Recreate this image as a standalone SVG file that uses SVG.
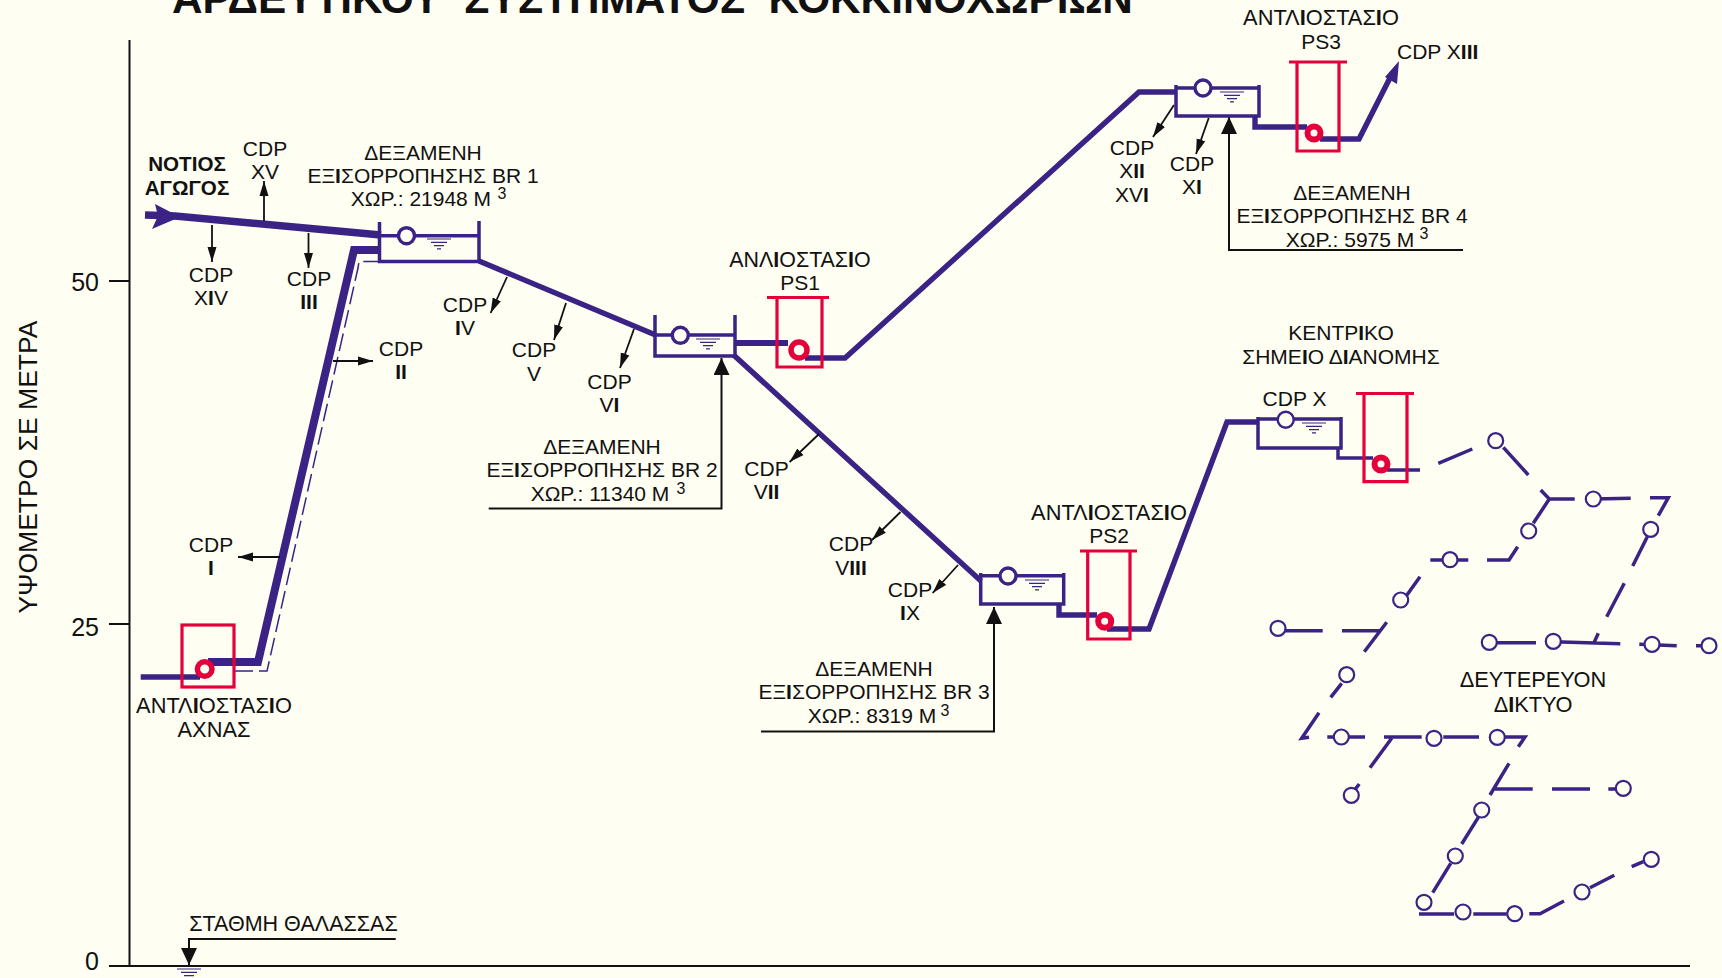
<svg xmlns="http://www.w3.org/2000/svg" width="1722" height="978" viewBox="0 0 1722 978">
<style>
text{font-family:"Liberation Sans",Arial,sans-serif;font-size:21px;fill:#111;text-anchor:middle}
tspan.i{font-weight:bold}
.l{font-size:21.8px}
.p{fill:none;stroke:#3b2385;stroke-width:3.5}
.m{fill:none;stroke:#3b2385;stroke-width:5.4}
.t{fill:none;stroke:#3b2385;stroke-width:8}
.n{fill:#fffef2;stroke:#3b2385;stroke-width:2.2}
.rc{fill:#fffef2;stroke:#3b2385;stroke-width:3.4}
.r{fill:none;stroke:#e4003a;stroke-width:3.2}
.o{fill:#fffef2;stroke:#e4003a;stroke-width:6}
.k{fill:none;stroke:#111;stroke-width:1.8}
.a{marker-end:url(#ah)}
.b{fill:none;stroke:#111;stroke-width:2;marker-end:url(#bh)}
.w{stroke:#3b2385;stroke-width:1.2}
.sup{font-size:16px}
</style>
<defs>
<marker id="ah" markerUnits="userSpaceOnUse" markerWidth="16" markerHeight="10" refX="15" refY="5" orient="auto"><path d="M0,0.5L15,5L0,9.5z" fill="#111"/></marker>
<marker id="bh" markerUnits="userSpaceOnUse" markerWidth="18" markerHeight="16" refX="17" refY="8" orient="auto"><path d="M0,0L17,8L0,16z" fill="#111"/></marker>
<g id="wl"><path class="w" d="M-12,0H12M-8,3.3H8M-5,6.6H5M-2,9.9H2"/></g>
</defs>
<rect width="1722" height="978" fill="#fffef2"/>
<g id="title"><text x="172" y="13" style="text-anchor:start;font-size:42.3px;font-weight:bold" xml:space="preserve">ΑΡΔΕΥΤΙΚΟΥ  ΣΥΣΤΗΜΑΤΟΣ  ΚΟΚΚΙΝΟΧΩΡΙΩΝ</text></g>
<g id="axes">
<path d="M129.5,40V966M109,966H1690M109,281H129.5M109,624H129.5" fill="none" stroke="#111" stroke-width="2"/>
<text x="99" y="291" style="text-anchor:end;font-size:25px">50</text>
<text x="99" y="636" style="text-anchor:end;font-size:25px">25</text>
<text x="99" y="970" style="text-anchor:end;font-size:25px">0</text>
<text transform="translate(37,467) rotate(-90)" style="font-size:26.5px">ΥΨΟΜΕΤΡΟ ΣΕ ΜΕΤΡΑ</text>
</g>
<g id="connectors">
<path class="t" d="M145,215L175,216L381,235" style="stroke-width:7.5"/>
<path d="M155,204L180,217L152,229L158,216z" fill="#3b2385"/>
<path class="t" d="M208,662H258L354,250H380"/>
<path fill="none" stroke="#3b2385" stroke-width="1.5" stroke-dasharray="18 6" d="M235,671H267L358,268L359,261.5H380"/>
<path class="m" d="M140.7,677H200"/>
<path class="m" d="M479,261L655.6,335M733.6,355L981,581"/>
<path class="m" style="stroke-width:6" d="M735,343H788"/>
<path class="m" d="M805,358H845L1139,92H1176"/>
<path class="m" d="M1255,117V127H1307"/>
<path class="m" d="M1320,139H1359L1393,72"/>
<path d="M1399,61L1385,77L1397,84z" fill="#3b2385"/>
<path class="m" d="M1059,604V615H1097"/>
<path class="m" d="M1107,629H1149L1227,422H1258"/>
<path class="p" d="M1338,448V458H1373M1386.7,470H1420"/>
<path class="p" d="M1438.3,463.3L1472.3,449M1503.3,447.3L1528.3,475M1540.7,490L1549.3,499H1574.7M1549.3,499L1533.3,523.3M1517.7,546.7L1509,560H1487M1468.3,560H1430.3M1420,576.7L1405.7,596.7M1386.7,622.3L1364.3,651.7M1379.3,630.7H1342M1322.7,630.7H1278M1593.3,499L1630.7,498.3M1650,497.7H1668.3L1658.3,515.7M1647.3,536.7L1632.7,566M1624.3,583.3L1606.7,616.7M1598.3,633.3L1594,642.7M1489.3,642.7H1536M1553.3,641.7L1620.3,643.7M1639.3,644.3L1676.7,645.7M1696,645.7H1709"/>
<path class="p" d="M1341.7,683.3L1330.7,697.3M1319,712.7L1301.7,738.3L1309,737.3M1327.3,737H1365M1384,737H1421.7M1391.7,738.3L1370,767.7M1443.3,737H1479M1505,737H1525L1518.3,746.7M1509,763.3L1490,795M1495,789H1532.7M1552,789H1590M1608.3,789H1623M1359.3,784L1355,789.3M1478.3,817.3L1461.7,844M1450.7,863.3L1432.7,892.7M1419,914H1454M1473.3,914H1506.7M1529.3,913.7H1540L1564,901M1590,887.7L1614.3,875.3M1631.7,866.7L1643.3,861.7"/>
<path class="k a" d="M264,221V181"/>
<path class="k a" d="M212,225V262"/>
<path class="k a" d="M308.5,233V268"/>
<path class="k a" d="M507,277L490.6,313"/>
<path class="k a" d="M566,303L554,340"/>
<path class="k a" d="M634,329L620,368"/>
<path class="k a" d="M333,361H373"/>
<path class="k a" d="M280,557H238"/>
<path class="k a" d="M819,434L789.6,462"/>
<path class="k a" d="M900.5,512L872,540"/>
<path class="k a" d="M958,565L932.7,593"/>
<path class="k a" d="M1174,105L1153,137"/>
<path class="k a" d="M1208.7,118L1196,154"/>
<path class="b" d="M1463,250H1229V117"/>
<path class="b" d="M488.7,508.5H721.5V358"/>
<path class="b" d="M761,731.4H994V607"/>
<path class="b" d="M395.7,939H189V965"/>
<use href="#wl" transform="translate(189,969)"/>
</g>
<g id="nout"><text x="187" y="171" style="font-weight:bold;font-size:20.6px">ΝΟΤΙΟΣ</text><text x="187" y="195" style="font-weight:bold;font-size:20.6px">ΑΓΩΓΟΣ</text></g>
<g id="cdp15"><text x="265" y="156">CDP</text><text x="265" y="179">XV</text></g>
<g id="cdp14"><text x="211" y="282">CDP</text><text x="211" y="305">X<tspan class="i">I</tspan>V</text></g>
<g id="cdp3"><text x="309" y="286">CDP</text><text x="309" y="309"><tspan class="i">III</tspan></text></g>
<g id="cdp4"><text x="465" y="312">CDP</text><text x="465" y="335"><tspan class="i">I</tspan>V</text></g>
<g id="cdp5"><text x="534" y="357">CDP</text><text x="534" y="381">V</text></g>
<g id="cdp6"><text x="609.5" y="389">CDP</text><text x="609.5" y="412">V<tspan class="i">I</tspan></text></g>
<g id="cdp2"><text x="401" y="356">CDP</text><text x="401" y="379"><tspan class="i">II</tspan></text></g>
<g id="cdp1"><text x="211" y="552">CDP</text><text x="211" y="575"><tspan class="i">I</tspan></text></g>
<g id="cdp7"><text x="766.5" y="476">CDP</text><text x="766.5" y="499">V<tspan class="i">II</tspan></text></g>
<g id="cdp8"><text x="851" y="551">CDP</text><text x="851" y="575">V<tspan class="i">III</tspan></text></g>
<g id="cdp9"><text x="910" y="597">CDP</text><text x="910" y="620"><tspan class="i">I</tspan>X</text></g>
<g id="cdp10"><text x="1294.5" y="406">CDP X</text></g>
<g id="cdp11"><text x="1192" y="171">CDP</text><text x="1192" y="194">X<tspan class="i">I</tspan></text></g>
<g id="cdp12"><text x="1132" y="155">CDP</text><text x="1132" y="178">X<tspan class="i">II</tspan></text><text x="1132" y="202">XV<tspan class="i">I</tspan></text></g>
<g id="cdp13"><text x="1397" y="59" style="text-anchor:start">CDP X<tspan class="i">III</tspan></text></g>
<g id="station-axnas">
<rect class="r" x="182" y="625" width="52" height="62"/>
<circle class="o" style="stroke-width:5.5" cx="204.7" cy="669" r="7.3"/>
<text class="l" x="214" y="713">ΑΝΤΛ<tspan class="i">Ι</tspan>ΟΣΤΑΣ<tspan class="i">Ι</tspan>Ο</text><text class="l" x="214" y="737">ΑΧΝΑΣ</text>
</g>
<g id="sea"><text style="font-size:21.5px" x="293.5" y="931">ΣΤΑΘΜΗ ΘΑΛΑΣΣΑΣ</text></g>
<g id="br1">
<path class="p" d="M379.5,222V261.5H479V221M379.5,235.7H479"/>
<circle class="rc" cx="406.5" cy="235.7" r="8"/>
<use href="#wl" transform="translate(439,239)"/>
<text x="423" y="160">ΔΕΞΑΜΕΝΗ</text><text x="423" y="183">ΕΞ<tspan class="i">Ι</tspan>ΣΟΡΡΟΠΗΣΗΣ BR 1</text><text x="421" y="206">ΧΩΡ.: 21948 Μ</text><text class="sup" x="502" y="199">3</text>
</g>
<g id="br2">
<path class="p" d="M655,315V356H735V315M655,335H735"/>
<circle class="rc" cx="680.3" cy="335.3" r="8"/>
<use href="#wl" transform="translate(708,339)"/>
<text x="602" y="454">ΔΕΞΑΜΕΝΗ</text><text x="602" y="477">ΕΞ<tspan class="i">Ι</tspan>ΣΟΡΡΟΠΗΣΗΣ BR 2</text><text x="600" y="501">ΧΩΡ.: 11340 Μ</text><text class="sup" x="681" y="494">3</text>
</g>
<g id="ps1">
<path class="r" d="M767,297.5H829M777,297.5V367H822V297.5"/>
<circle class="o" style="stroke-width:5.5" cx="799" cy="350" r="8"/>
<text class="l" x="800" y="267" style="font-size:21.4px">ΑΝΛ<tspan class="i">Ι</tspan>ΟΣΤΑΣ<tspan class="i">Ι</tspan>Ο</text><text x="800" y="290">PS1</text>
</g>
<g id="br3">
<path class="p" d="M980.7,573V604H1063.7V573M980.7,575.7H1063.7"/>
<circle class="rc" cx="1008" cy="576" r="8"/>
<use href="#wl" transform="translate(1037,580)"/>
<text x="874" y="676">ΔΕΞΑΜΕΝΗ</text><text x="874" y="699">ΕΞ<tspan class="i">Ι</tspan>ΣΟΡΡΟΠΗΣΗΣ BR 3</text><text x="872" y="723">ΧΩΡ.: 8319 Μ</text><text class="sup" x="945" y="716">3</text>
</g>
<g id="ps2">
<path class="r" d="M1080,551H1137M1087.7,551V639H1130V551"/>
<circle class="o" cx="1104.7" cy="621.3" r="6.5"/>
<text class="l" x="1109" y="520">ΑΝΤΛ<tspan class="i">Ι</tspan>ΟΣΤΑΣ<tspan class="i">Ι</tspan>Ο</text><text x="1109" y="543">PS2</text>
</g>
<g id="br4">
<path class="p" d="M1176,85V116H1259V85M1176,88H1259"/>
<circle class="rc" cx="1203" cy="88" r="8"/>
<use href="#wl" transform="translate(1232,92)"/>
<text x="1352" y="200">ΔΕΞΑΜΕΝΗ</text><text x="1352" y="223">ΕΞ<tspan class="i">Ι</tspan>ΣΟΡΡΟΠΗΣΗΣ BR 4</text><text x="1350" y="247">ΧΩΡ.: 5975 Μ</text><text class="sup" x="1424" y="239">3</text>
</g>
<g id="ps3">
<path class="r" d="M1289,62H1347M1297,62V151H1339V62"/>
<circle class="o" cx="1314" cy="133" r="6.5"/>
<text class="l" x="1321" y="25">ΑΝΤΛ<tspan class="i">Ι</tspan>ΟΣΤΑΣ<tspan class="i">Ι</tspan>Ο</text><text x="1321" y="49">PS3</text>
</g>
<g id="central">
<path class="p" d="M1258,417V448H1341V417M1258,419H1341"/>
<circle class="rc" cx="1285.7" cy="419.7" r="8" style="stroke-width:2.4"/>
<use href="#wl" transform="translate(1314,423)"/>
<text x="1341" y="340">ΚΕΝΤΡ<tspan class="i">Ι</tspan>ΚΟ</text><text x="1341" y="364">ΣΗΜΕ<tspan class="i">Ι</tspan>Ο Δ<tspan class="i">Ι</tspan>ΑΝΟΜΗΣ</text>
</g>
<g id="ps4">
<path class="r" d="M1356,393.5H1414M1364,393.5V481.7H1407V393.5"/>
<circle class="o" cx="1381" cy="464" r="6.5"/>
</g>
<g id="secondary-network">
<circle class="n" cx="1495.7" cy="440.7" r="7.5"/><circle class="n" cx="1528.7" cy="531" r="7.5"/><circle class="n" cx="1450" cy="559.7" r="7.5"/><circle class="n" cx="1400.7" cy="600" r="7.5"/><circle class="n" cx="1278" cy="628.3" r="7.5"/><circle class="n" cx="1593.3" cy="499" r="7.5"/><circle class="n" cx="1650.7" cy="529.3" r="7.5"/><circle class="n" cx="1489.3" cy="642.3" r="7.5"/><circle class="n" cx="1553.3" cy="641.3" r="7.5"/><circle class="n" cx="1652" cy="644.3" r="7.5"/><circle class="n" cx="1709" cy="645.7" r="7.5"/>
<circle class="n" cx="1346.7" cy="674.7" r="7.5"/><circle class="n" cx="1341.3" cy="737" r="7.5"/><circle class="n" cx="1434" cy="738.3" r="7.5"/><circle class="n" cx="1497.3" cy="737.3" r="7.5"/><circle class="n" cx="1623.3" cy="788.3" r="7.5"/><circle class="n" cx="1351.3" cy="795.3" r="7.5"/><circle class="n" cx="1481.7" cy="810" r="7.5"/><circle class="n" cx="1455.3" cy="856" r="7.5"/><circle class="n" cx="1424" cy="902.3" r="7.5"/><circle class="n" cx="1463" cy="912" r="7.5"/><circle class="n" cx="1514.7" cy="913.7" r="7.5"/><circle class="n" cx="1582" cy="892" r="7.5"/><circle class="n" cx="1651.3" cy="859.3" r="7.5"/>
<text class="l" x="1533" y="687">ΔΕΥΤΕΡΕΥΟΝ</text><text class="l" x="1533" y="712">Δ<tspan class="i">Ι</tspan>ΚΤΥΟ</text>
</g>
</svg>
